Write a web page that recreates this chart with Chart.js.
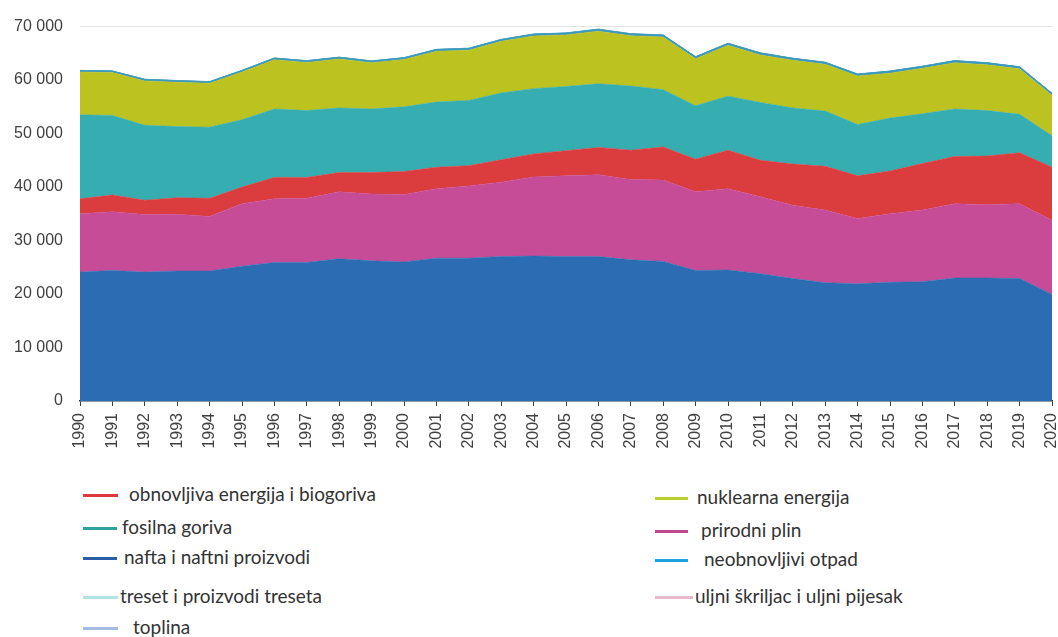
<!DOCTYPE html>
<html><head><meta charset="utf-8">
<script src="https://cdn.jsdelivr.net/npm/chart.js@4"></script>
<style>
html,body{margin:0;padding:0;background:#fff;}
#wrap{position:relative;width:1058px;height:637px;overflow:hidden;background:#fff;}
#c{position:absolute;left:0;top:0;}
.lg{position:absolute;font-family:Lato,"Open Sans",sans-serif;font-size:19px;color:#333;white-space:nowrap;line-height:22px;}
.sw{position:absolute;height:3px;}
</style></head>
<body><div id="wrap"><canvas id="c"></canvas></div>
<script>
const years = ['1990','1991','1992','1993','1994','1995','1996','1997','1998','1999','2000','2001','2002','2003','2004','2005','2006','2007','2008','2009','2010','2011','2012','2013','2014','2015','2016','2017','2018','2019','2020'];
const yTicks = [0,10000,20000,30000,40000,50000,60000,70000];

const nafta = [24100,24400,24100,24300,24300,25200,25900,25900,26600,26200,26000,26700,26700,27000,27100,27000,27000,26400,26100,24400,24500,23800,22900,22100,21900,22200,22300,23000,23000,22900,19900];
const plin = [10900,11000,10750,10600,10200,11700,11900,12000,12500,12500,12600,13000,13500,13900,14800,15100,15300,15000,15200,14700,15200,14400,13700,13600,12200,12800,13400,13900,13700,14000,13900];
const obnovljiva = [2800,3100,2700,3100,3400,3100,4000,3900,3600,4000,4300,4000,3800,4200,4300,4700,5100,5500,6200,6100,7200,6800,7700,8200,8000,8000,8700,8800,9100,9500,9900];
const fosilna = [15700,14900,14000,13300,13300,12600,12800,12500,12100,11900,12100,12200,12200,12500,12200,12000,11900,12000,10700,10000,10100,10800,10500,10300,9600,9900,9300,8900,8500,7200,5900];
const nuklearna = [8000,8000,8300,8300,8200,8900,9200,9000,9150,8650,8850,9500,9400,9650,9850,9650,9850,9400,9850,8800,9500,8900,8900,8750,9050,8400,8500,8650,8550,8500,7550];
const otpad = [200,200,200,210,210,220,230,230,240,240,250,250,260,260,270,270,280,280,290,290,300,300,300,300,300,310,310,310,310,310,300];
const treset = [60,60,55,55,55,50,50,50,50,45,45,45,45,40,40,40,40,40,40,35,35,35,35,35,30,30,30,30,30,30,30];
const uljni = [15,15,15,15,15,15,15,15,15,15,15,15,15,15,15,15,15,15,15,15,15,15,15,15,15,15,15,15,15,15,15];
const toplina = [40,40,40,40,40,40,40,40,40,40,40,40,40,40,40,40,40,40,40,40,40,40,40,40,40,40,40,40,40,40,40];

const series = [
  {label:'nafta i naftni proizvodi', data:nafta, fill:'#2b6cb3', key:'#2a5ea8'},
  {label:'prirodni plin', data:plin, fill:'#c74c97', key:'#c2478f'},
  {label:'obnovljiva energija i biogoriva', data:obnovljiva, fill:'#db3c3e', key:'#e0383c'},
  {label:'fosilna goriva', data:fosilna, fill:'#35adb1', key:'#2ea39c'},
  {label:'nuklearna energija', data:nuklearna, fill:'#bcc21f', key:'#b9cf2c'},
  {label:'neobnovljivi otpad', data:otpad, fill:'#3a98c0', key:'#1aa2de'},
  {label:'treset i proizvodi treseta', data:treset, fill:'#4aa6c4', key:'#b4e2e2'},
  {label:'uljni škriljac i uljni pijesak', data:uljni, fill:'#4aa0c0', key:'#e6b9cd'},
  {label:'toplina', data:toplina, fill:'#4a9cc4', key:'#a3bde2'}
];

const canvas = document.getElementById('c');
canvas.width = 1058; canvas.height = 460;
canvas.style.width = '1058px'; canvas.style.height = '460px';

new Chart(canvas, {
  type: 'line',
  data: {
    labels: years,
    datasets: series.map((s, i) => ({
      label: s.label,
      data: s.data,
      backgroundColor: s.fill,
      borderColor: s.fill,
      borderWidth: i >= 5 ? 1 : 0.5,
      pointRadius: 0,
      tension: 0,
      fill: i === 0 ? 'origin' : '-1'
    }))
  },
  options: {
    responsive: false,
    animation: false,
    events: [],
    layout: {padding: {top: 22, right: 6, left: 0, bottom: 0}},
    plugins: {legend: {display: false}, tooltip: {enabled: false}},
    scales: {
      x: {
        offset: false,
        grid: {drawOnChartArea: false, drawTicks: true, tickLength: 5, color: '#3a3f4a', lineWidth: 1},
        border: {display: true, color: '#26324a', width: 1.5},
        ticks: {minRotation: 90, maxRotation: 90, autoSkip: false, padding: 7, color: '#404040',
          font: {family: '"Liberation Sans", Arial, sans-serif', size: 16}},
        afterFit: s => { s.height = 59; s.paddingRight = 0; s.paddingLeft = 0; }
      },
      y: {
        stacked: true,
        min: 0, max: 70000,
        afterBuildTicks: s => { s.ticks = yTicks.map(v => ({value: v})); },
        grid: {drawTicks: false, color: ctx => ctx.tick && ctx.tick.value === 70000 ? '#e2e2e2' : 'rgba(0,0,0,0)'},
        border: {display: false},
        ticks: {padding: 17, color: '#404040',
          font: {family: '"Liberation Sans", Arial, sans-serif', size: 16},
          callback: v => String(v).replace(/\B(?=(\d{3})+(?!\d))/g, ' ')},
        afterFit: s => { s.width = 80; }
      }
    }
  }
});

// legend (two columns, as in the reference)
const legendLayout = [
  {i:2, lx:83, lw:35, tx:129, y:495},
  {i:3, lx:83, lw:34, tx:122, y:528},
  {i:0, lx:83, lw:34, tx:124, y:558},
  {i:6, lx:83, lw:35, tx:120, y:597},
  {i:8, lx:83, lw:35, tx:133, y:628},
  {i:4, lx:655, lw:33, tx:697, y:498},
  {i:1, lx:655, lw:33, tx:701, y:531},
  {i:5, lx:655, lw:33, tx:704, y:560},
  {i:7, lx:655, lw:38, tx:695, y:597}
];
const wrap = document.getElementById('wrap');
legendLayout.forEach(o => {
  const s = series[o.i];
  const sw = document.createElement('div');
  sw.className = 'sw';
  sw.style.left = o.lx + 'px'; sw.style.width = o.lw + 'px';
  sw.style.top = (o.y - 1) + 'px'; sw.style.background = s.key;
  wrap.appendChild(sw);
  const t = document.createElement('div');
  t.className = 'lg';
  t.textContent = s.label;
  t.style.left = o.tx + 'px'; t.style.top = (o.y - 12) + 'px';
  wrap.appendChild(t);
});
</script>
</body></html>
